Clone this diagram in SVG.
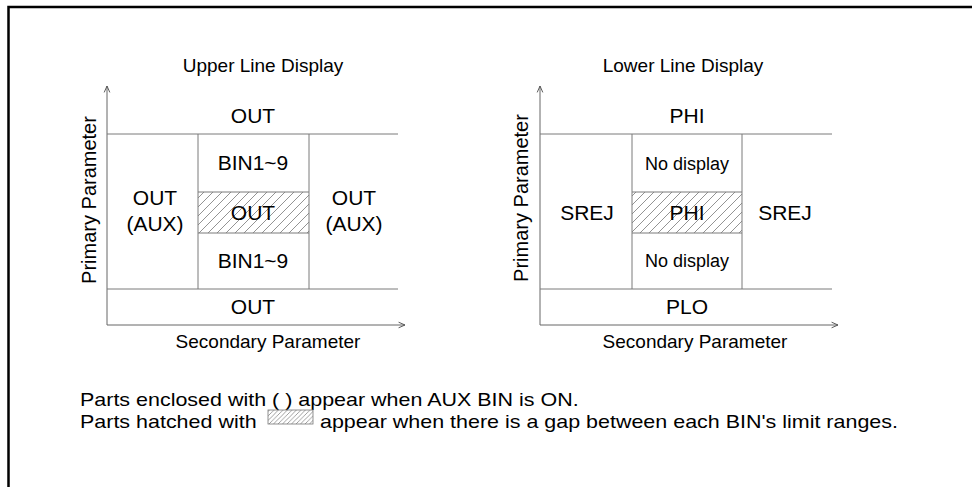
<svg xmlns="http://www.w3.org/2000/svg" width="972" height="487" viewBox="0 0 972 487">
<style>
text{font-family:"Liberation Sans",Arial,sans-serif;fill:#000;}
.t{font-size:19px;text-anchor:middle;}
.l{font-size:21px;text-anchor:middle;}
.n{font-size:18px;text-anchor:middle;}
.p{font-size:20px;text-anchor:middle;}
.note{font-size:19px;}
.grid{stroke:#7a7a7a;stroke-width:1;fill:none;}
.axis{stroke:#666;stroke-width:1;fill:none;}
</style>
<defs>
<pattern id="hatch" patternUnits="userSpaceOnUse" width="9" height="9">
<path d="M-2,2 L2,-2 M0,9 L9,0 M7,11 L11,7" stroke="#777" stroke-width="0.8"/>
</pattern>
<pattern id="hatchS" patternUnits="userSpaceOnUse" width="4.5" height="4.5">
<path d="M-1,1 L1,-1 M0,4.5 L4.5,0 M3.5,5.5 L5.5,3.5" stroke="#777" stroke-width="0.7"/>
</pattern>
<marker id="arr" viewBox="0 0 10 10" refX="9" refY="5" markerWidth="8" markerHeight="8" orient="auto" markerUnits="userSpaceOnUse">
<path d="M1,1.5 L9,5 L1,8.5" fill="none" stroke="#555" stroke-width="1.2"/>
</marker>
</defs>
<rect width="972" height="487" fill="#fff"/>
<path d="M8.5,487 L8.5,7 L972,7" fill="none" stroke="#000" stroke-width="2.5"/>

<g id="upper-display">
<text class="t" x="263" y="72">Upper Line Display</text>
<g id="upper-axes">
<path class="axis" d="M107,325 L107,86" marker-end="url(#arr)"/>
<path class="axis" d="M107,325 L405,325" marker-end="url(#arr)"/>
</g>
<rect x="198" y="192" width="111" height="41" fill="url(#hatch)"/>
<g class="grid">
<path d="M107,134 L398,134 M107,289 L398,289 M198,134 L198,289 M309,134 L309,289 M198,192 L309,192 M198,233 L309,233"/>
</g>
<text class="l" x="253" y="123">OUT</text>
<text class="l" x="253" y="170">BIN1~9</text>
<text class="l" x="253" y="220">OUT</text>
<text class="l" x="253" y="268">BIN1~9</text>
<text class="l" x="155" y="205">OUT</text>
<text class="l" x="155" y="231">(AUX)</text>
<text class="l" x="354" y="205">OUT</text>
<text class="l" x="354" y="231">(AUX)</text>
<text class="l" x="253" y="314">OUT</text>
<text class="t" x="268" y="348">Secondary Parameter</text>
<text class="p" transform="translate(96,200) rotate(-90)">Primary Parameter</text>
</g>

<g id="lower-display">
<text class="t" x="683" y="72">Lower Line Display</text>
<g id="lower-axes">
<path class="axis" d="M540,325 L540,86" marker-end="url(#arr)"/>
<path class="axis" d="M540,325 L838,325" marker-end="url(#arr)"/>
</g>
<rect x="632" y="192" width="110" height="41" fill="url(#hatch)"/>
<g class="grid">
<path d="M540,134 L832,134 M540,289 L832,289 M632,134 L632,289 M742,134 L742,289 M632,192 L742,192 M632,233 L742,233"/>
</g>
<text class="l" x="687" y="123">PHI</text>
<text class="n" x="687" y="170">No display</text>
<text class="l" x="687" y="220">PHI</text>
<text class="n" x="687" y="267">No display</text>
<text class="l" x="587" y="220">SREJ</text>
<text class="l" x="785" y="220">SREJ</text>
<text class="l" x="687" y="314">PLO</text>
<text class="t" x="695" y="348">Secondary Parameter</text>
<text class="p" transform="translate(528,198) rotate(-90)">Primary Parameter</text>
</g>

<g id="notes">
<text class="note" transform="translate(80,406) scale(1.13,1)">Parts enclosed with ( ) appear when AUX BIN is ON.</text>
<text class="note" transform="translate(80,427.5) scale(1.13,1)">Parts hatched with</text>
<rect x="268" y="410" width="45" height="14" fill="url(#hatchS)" stroke="#777" stroke-width="0.8"/>
<text class="note" transform="translate(320,427.5) scale(1.13,1)">appear when there is a gap between each BIN's limit ranges.</text>
</g>
</svg>
